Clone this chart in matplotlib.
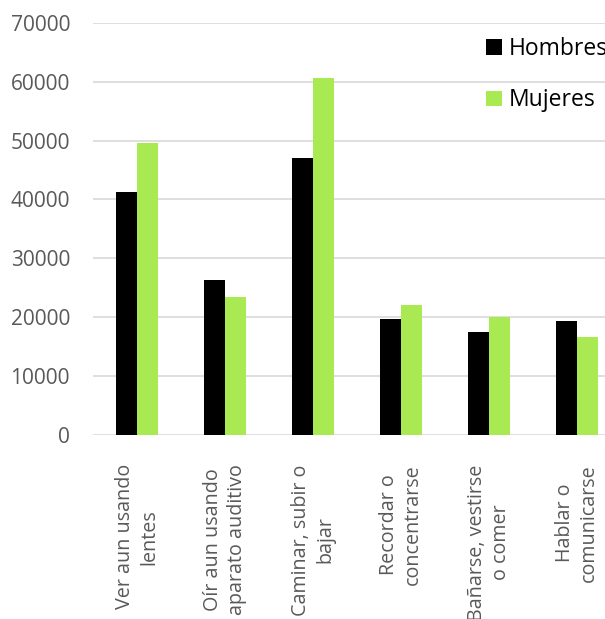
import matplotlib.pyplot as plt
import numpy as np
from matplotlib.patches import Patch

# Data
categories = ['Ver aun usando\nlentes', 'Oír aun usando\naparato auditivo',
              'Caminar, subir o\nbajar', 'Recordar o\nconcentrarse',
              'Bañarse, vestirse\no comer', 'Hablar o\ncomunicarse']
hombres = [41300, 26300, 47000, 19700, 17400, 19300]
mujeres = [49600, 23400, 60600, 22000, 20000, 16600]
yticks = [0, 10000, 20000, 30000, 40000, 50000, 60000, 70000]

black = '#000000'
green = '#a9ea52'
grid_gray = '#d9d9d9'
label_gray = '#595959'

plt.rcParams['font.family'] = ['Open Sans', 'DejaVu Sans']

fig = plt.figure(figsize=(6.05, 6.19), dpi=100)
ax = fig.add_axes([0.1536, 0.2973, 0.8727, 0.666])

x = np.arange(len(categories))
w = 0.235
ax.bar(x - w / 2, hombres, w, color=black, zorder=3)
ax.bar(x + w / 2, mujeres, w, color=green, zorder=3)

ax.set_xlim(-0.5, len(categories) - 0.5)
ax.set_ylim(0, 70000)
ax.set_yticks(yticks)
ax.set_yticklabels([str(v) for v in yticks])
ax.set_xticks(x)
ax.set_xticklabels(categories, rotation=90, ha='center', va='top',
                   multialignment='center', linespacing=1.3)

ax.tick_params(axis='y', length=0, pad=16.5, labelsize=15, labelcolor=label_gray)
ax.tick_params(axis='x', length=0, pad=21, labelsize=14.2, labelcolor=label_gray)

for s in ax.spines.values():
    s.set_visible(False)
ax.yaxis.grid(True, color=grid_gray, linewidth=1.2, zorder=0)
ax.set_axisbelow(True)

# Legend sits at the upper right, running past the figure edge
legend_elements = [
    Patch(facecolor=black, label='Hombres'),
    Patch(facecolor=green, label='Mujeres'),
]
ax.legend(handles=legend_elements, loc='upper left',
          bbox_to_anchor=(486 / 605, 1 - 37 / 619), bbox_transform=fig.transFigure,
          frameon=False, fontsize=16.5, handlelength=0.68, handleheight=0.68,
          handletextpad=0.3, labelspacing=1.2, borderpad=0, borderaxespad=0,
          labelcolor='#000000')

fig.savefig('out.png', dpi=100)
